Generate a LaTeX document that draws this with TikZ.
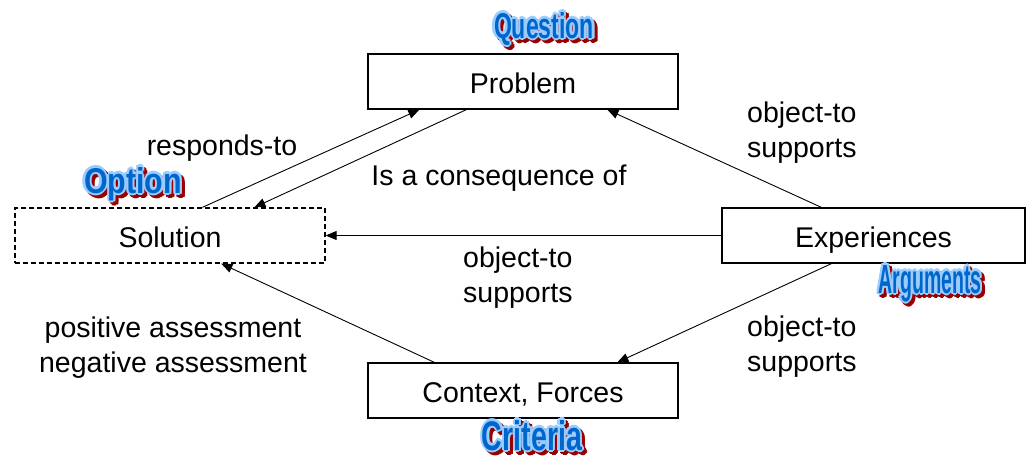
\documentclass[tikz,border=0pt]{standalone}
\usepackage{fontspec}
\setmainfont{Liberation Sans}
\usetikzlibrary{arrows.meta,calc}

\definecolor{artblue}{HTML}{0066CC}
\definecolor{arthalo}{HTML}{99CCFF}
\definecolor{artred}{HTML}{990000}

\tikzset{
  box/.style={draw, line width=1.3pt, minimum width=310pt, minimum height=55pt,
    inner sep=0pt, text height=25pt, text depth=1.4pt,
    font=\fontsize{28.5}{34}\selectfont},
  dashbox/.style={box, dash pattern=on 5pt off 3pt},
  link/.style={line width=0.9pt, -{Triangle[length=11pt,width=9pt]}},
  lbl/.style={inner sep=0pt, align=left, font=\fontsize{28.5}{35}\selectfont},
  artglyph/.style={inner sep=0pt, anchor=base, font=\bfseries},
}

% Outlined, shadowed title: #1 name, #2 base point, #3 width, #4 cap height, #5 text
\newcommand\artlabel[5]{%
  \foreach \dx/\dy [count=\k] in {2.2/0,1.6/1.6,0/2.2,-1.6/1.6,-2.2/0,-1.6/-1.6,0/-2.2,1.6/-1.6}{
    \node[artglyph, text=artred, name=#1-shadow\k] at ($#2+(\dx+3,\dy+3)$) {\resizebox{#3}{#4}{#5}};
  }
  \foreach \dx/\dy [count=\k] in {2.2/0,1.6/1.6,0/2.2,-1.6/1.6,-2.2/0,-1.6/-1.6,0/-2.2,1.6/-1.6}{
    \node[artglyph, text=arthalo, name=#1-halo\k] at ($#2+(\dx,\dy)$) {\resizebox{#3}{#4}{#5}};
  }
  \node[artglyph, text=artblue, name=#1] at #2 {\resizebox{#3}{#4}{#5}};
}

\begin{document}
\begin{tikzpicture}[x=1pt,y=-1pt]
  \useasboundingbox (0,0) rectangle (1027,459);

  % boxes
  \node[box] (problem) at (523,81.5) {Problem};
  \node[dashbox] (solution) at (170,235.5) {Solution};
  \node[box, minimum width=303pt] (experiences) at (873.5,235.5) {Experiences};
  \node[box] (context) at (523,390.5) {Context, Forces};

  % connectors
  \draw[link] ($(solution.north west)+(188,0)$) -- ($(problem.south west)+(52,0)$);
  \draw[link] ($(problem.south west)+(99,0)$) -- ($(solution.north west)+(240,0)$);
  \draw[link] ($(experiences.north west)+(100,0)$) -- ($(problem.south west)+(240,0)$);
  \draw[link] (experiences.west) -- (solution.east);
  \draw[link] ($(experiences.south west)+(110,0)$) -- ($(context.north west)+(250,0)$);
  \draw[link] ($(context.north west)+(67,0)$) -- ($(solution.south west)+(207,0)$);

  % connector labels
  \node[lbl] (lresp) at (222,148) {responds-to};
  \node[lbl] (lcons) at (499,178) {Is a consequence of};
  \node[lbl, anchor=west] (lep) at (747,133) {object-to\\supports};
  \node[lbl, anchor=west] (les) at (463,278) {object-to\\supports};
  \node[lbl, anchor=west] (lec) at (747,347) {object-to\\supports};
  \node[lbl, align=center] (lcs) at (173,348) {positive assessment\\negative assessment};

  % titles
  \artlabel{question}{(544,38)}{100pt}{26pt}{Question}
  \artlabel{option}{(133,193)}{98pt}{26pt}{Option}
  \artlabel{arguments}{(930,293)}{103pt}{28pt}{Arguments}
  \artlabel{criteria}{(532,450)}{100pt}{30pt}{Criteria}
\end{tikzpicture}
\end{document}
